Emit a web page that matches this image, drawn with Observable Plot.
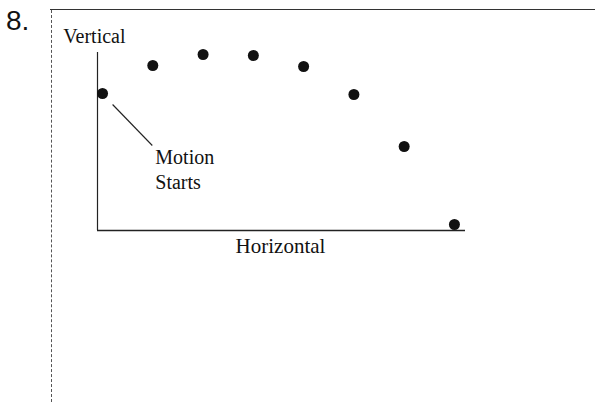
<!DOCTYPE html>
<html>
<head>
<meta charset="utf-8">
<script src="https://cdn.jsdelivr.net/npm/d3@7"></script>
<script src="https://cdn.jsdelivr.net/npm/@observablehq/plot@0.6"></script>
<style>
  html, body { margin: 0; padding: 0; background: #fff; }
  #wrap { position: relative; width: 595px; height: 402px; overflow: hidden; }
  #num { position: absolute; left: 6px; top: 5px; font: 28px "Liberation Sans", Arial, sans-serif; color: #111; }
  #topline { position: absolute; left: 50px; top: 9px; width: 545px; border-top: 1.5px solid #333; }
  #leftline { position: absolute; left: 51px; top: 10px; height: 392px; border-left: 1.2px dashed #555; }
  #chart { position: absolute; left: 0; top: 0; }
  #chart svg text { font-family: "Liberation Serif", "Times New Roman", serif; }
</style>
</head>
<body>
<div id="wrap">
  <div id="topline"></div>
  <div id="leftline"></div>
  <div id="num">8.</div>
  <div id="chart"></div>
</div>
<script>
// Successive positions of a projectile (equal time steps)
const steps = [0, 1, 2, 3, 4, 5, 6, 7];
const heights = [137, 165, 176, 175, 164, 136, 84, 6];
const xLabel = "Horizontal";
const yLabel = "Vertical";
const startLabel = ["Motion", "Starts"];

const points = steps.map((s, i) => ({x: s, y: heights[i]}));
const serif = "'Liberation Serif', 'Times New Roman', serif";

const chart = Plot.plot({
  width: 595,
  height: 402,
  margin: 0,
  style: {fontFamily: serif},
  x: {domain: [-0.1, 7.22], range: [97, 465], axis: null},
  y: {domain: [0, 180], range: [230, 50], axis: null},
  marks: [
    Plot.ruleX([-0.1], {y1: 0, y2: 178, stroke: "#222", strokeWidth: 1.2}),
    Plot.ruleY([0], {x1: -0.1, x2: 7.22, stroke: "#222", strokeWidth: 1.6}),
    Plot.link([{x1: 0.2, y1: 126, x2: 0.99, y2: 85}], {x1: "x1", y1: "y1", x2: "x2", y2: "y2", stroke: "#222", strokeWidth: 1.1}),
    Plot.dot(points, {x: "x", y: "y", r: 5.5, fill: "#111", stroke: "none"}),
    Plot.text([yLabel], {x: -0.78, y: 188, text: d => d, textAnchor: "start", lineAnchor: "bottom", fontSize: 20, fontFamily: serif, fill: "#111"}),
    Plot.text([xLabel], {x: 3.54, y: -22, text: d => d, textAnchor: "middle", lineAnchor: "bottom", fontSize: 21, fontFamily: serif, fill: "#111"}),
    Plot.text([startLabel[0]], {x: 1.05, y: 67, text: d => d, textAnchor: "start", lineAnchor: "bottom", fontSize: 20, fontFamily: serif, fill: "#111"}),
    Plot.text([startLabel[1]], {x: 1.05, y: 42, text: d => d, textAnchor: "start", lineAnchor: "bottom", fontSize: 20, fontFamily: serif, fill: "#111"})
  ]
});
document.getElementById("chart").appendChild(chart);
</script>
</body>
</html>
